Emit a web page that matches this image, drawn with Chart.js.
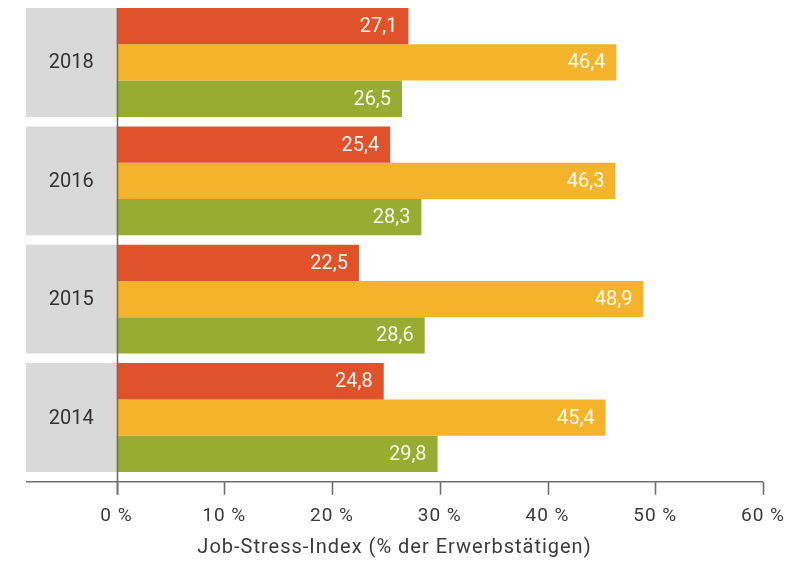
<!DOCTYPE html>
<html>
<head>
<meta charset="utf-8">
<script src="https://cdn.jsdelivr.net/npm/chart.js@4.4.1/dist/chart.umd.min.js"></script>
<style>
  html, body { margin: 0; padding: 0; background: #ffffff; }
  #c { display: block; }
</style>
</head>
<body>
<canvas id="c" width="803" height="564"></canvas>
<script>
// Survey years, top to bottom
const years = ['2018', '2016', '2015', '2014'];

// Job-Stress-Index shares per year (% of employed persons)
const seriesRed    = [27.1, 25.4, 22.5, 24.8];
const seriesYellow = [46.4, 46.3, 48.9, 45.4];
const seriesGreen  = [26.5, 28.3, 28.6, 29.8];

// Value axis
const tickValues = [0, 10, 20, 30, 40, 50, 60];
const axisMin = -8.4;   // room for the year boxes left of zero
const axisMax = 60;

const axisTitle = 'Job-Stress-Index (% der Erwerbstätigen)';

const FONT = 'Roboto, "DejaVu Sans", sans-serif';
const TEXT = '#3a3a3a';
const LINE = '#6f6f6f';

const fmt = v => v.toFixed(1).replace('.', ',');

// Slightly tracked lettering for the axis texts
const tracking = {
  id: 'tracking',
  beforeDraw(chart) { chart.ctx.letterSpacing = '1px'; },
  beforeDatasetsDraw(chart) { chart.ctx.letterSpacing = '0px'; }
};

// Year boxes, value labels and the axis line with its ticks
const decorations = {
  id: 'decorations',
  afterDatasetsDraw(chart) {
    const ctx = chart.ctx;
    const xs = chart.scales.x;
    const area = chart.chartArea;

    chart.data.datasets.forEach((ds, di) => {
      const meta = chart.getDatasetMeta(di);
      meta.data.forEach((bar, i) => {
        ctx.save();
        ctx.textBaseline = 'middle';
        ctx.font = '20px ' + FONT;
        if (ds.yearBox) {
          ctx.fillStyle = '#333333';
          ctx.textAlign = 'center';
          ctx.fillText(years[i], (bar.x + bar.base) / 2, bar.y + 1);
        } else {
          ctx.fillStyle = 'rgba(255,255,255,0.92)';
          ctx.textAlign = 'right';
          ctx.fillText(fmt(ds.data[i]), bar.x - 11, bar.y + 1);
        }
        ctx.restore();
      });
    });

    // axis line, tick marks and zero line
    const boxes = chart.getDatasetMeta(0).data;
    const topY = boxes[0].y - boxes[0].height / 2;
    const axisY = area.bottom + 5;
    const tickLen = 13;
    ctx.save();
    ctx.strokeStyle = LINE;
    ctx.lineWidth = 1.6;
    ctx.beginPath();
    ctx.moveTo(area.left, axisY);
    ctx.lineTo(area.right, axisY);
    tickValues.forEach(v => {
      const px = Math.round(xs.getPixelForValue(v)) + 0.5;
      ctx.moveTo(px, axisY);
      ctx.lineTo(px, axisY + tickLen);
    });
    ctx.stroke();
    const zx = Math.round(xs.getPixelForValue(0)) + 0.5;
    ctx.beginPath();
    ctx.moveTo(zx, topY);
    ctx.lineTo(zx, axisY + tickLen);
    ctx.stroke();
    ctx.restore();
  }
};

const common = { barPercentage: 1, categoryPercentage: 0.92, borderWidth: 0 };

new Chart(document.getElementById('c'), {
  type: 'bar',
  data: {
    labels: years,
    datasets: [
      Object.assign({ label: 'Jahr', yearBox: true, grouped: false,
        data: years.map(() => [axisMin, 0]), backgroundColor: '#d9d9d9' }, common),
      Object.assign({ label: 'Rot', data: seriesRed, backgroundColor: '#e0522a' }, common),
      Object.assign({ label: 'Gelb', data: seriesYellow, backgroundColor: '#f3b42b' }, common),
      Object.assign({ label: 'Grün', data: seriesGreen, backgroundColor: '#97ac31' }, common)
    ]
  },
  options: {
    indexAxis: 'y',
    responsive: false,
    animation: false,
    layout: { padding: { left: 26, right: 40, top: 3.3, bottom: 0 } },
    plugins: { legend: { display: false }, tooltip: { enabled: false } },
    scales: {
      y: { display: false },
      x: {
        type: 'linear',
        min: axisMin,
        max: axisMax,
        afterBuildTicks: s => { s.ticks = tickValues.map(v => ({ value: v })); },
        afterFit: s => { s.height = 87.3; },
        grid: { display: false, drawTicks: true, tickLength: 26 },
        border: { display: false },
        ticks: {
          autoSkip: false,
          maxRotation: 0,
          padding: 2,
          color: TEXT,
          font: { family: FONT, size: 19 },
          callback: v => v + ' %'
        },
        title: {
          display: true,
          text: axisTitle,
          color: TEXT,
          font: { family: FONT, size: 20 },
          padding: { top: 0, bottom: 4 }
        }
      }
    }
  },
  plugins: [tracking, decorations]
});
</script>
</body>
</html>
